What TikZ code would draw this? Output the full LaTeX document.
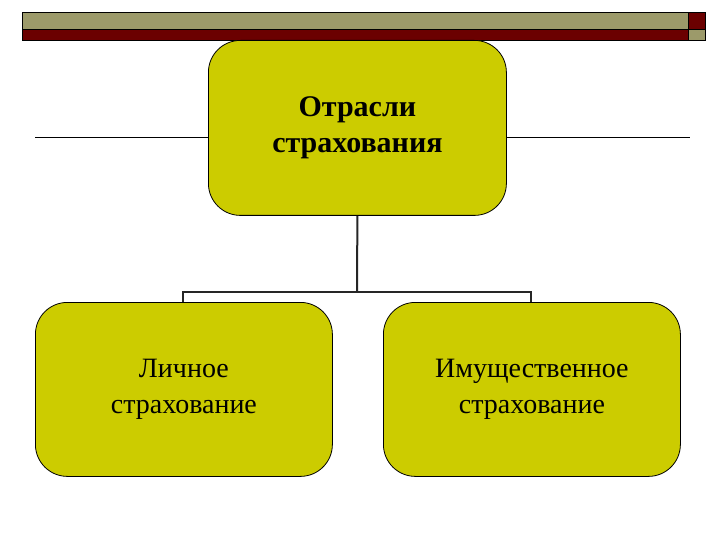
\documentclass[tikz,border=0pt]{standalone}
\usepackage{fontspec}
\setmainfont{Liberation Serif}
\definecolor{boxy}{HTML}{CCCC00}
\definecolor{olv}{HTML}{9C9A6A}
\definecolor{drd}{HTML}{6B0000}
\begin{document}
\begin{tikzpicture}[x=1pt,y=-1pt,
 bx/.style={draw=black,fill=boxy,rounded corners=32pt,line width=0.8pt},
 conn/.style={line width=2pt,draw=black!85}]
\useasboundingbox (0,0) rectangle (720,540);
\fill[white] (0,0) rectangle (720,540);
\draw[fill=olv,line width=0.6pt] (22,12) rectangle (688,29);
\draw[fill=drd,line width=0.6pt] (22,29) rectangle (688,40);
\draw[fill=drd,line width=0.6pt] (688,12) rectangle (705,29);
\draw[fill=olv,line width=0.6pt] (688,29) rectangle (705,40);
\draw[line width=0.6pt] (35,137) -- (208,137);
\draw[line width=0.6pt] (506,137) -- (690,137);
\node[bx,minimum width=298pt,minimum height=175pt,anchor=north west,font=\fontsize{30}{36}\selectfont\bfseries,align=center] (top) at (208,40) {Отрасли\\страхования};
\node[bx,minimum width=297pt,minimum height=174pt,anchor=north west,font=\fontsize{28}{36}\selectfont,align=center] (l) at (35,302) {Личное\\страхование};
\node[bx,minimum width=297pt,minimum height=174pt,anchor=north west,font=\fontsize{28}{36}\selectfont,align=center] (r) at (383,302) {Имущественное\\страхование};
\coordinate (j) at (357,292);
\draw[conn] (top.south) -- (j);
\draw[conn] (l.north -| 183,0) -- (183,292) -- (531,292) -- (r.north -| 531,0);
\end{tikzpicture}
\end{document}
